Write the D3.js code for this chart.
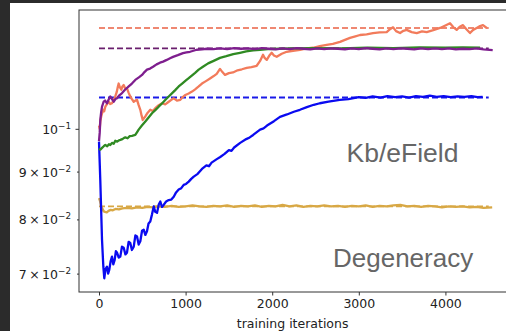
<!DOCTYPE html>
<html>
<head>
<meta charset="utf-8">
<script src="https://cdn.jsdelivr.net/npm/d3@7"></script>
<style>
body { margin: 0; background: #2b2b2b; }
svg { display: block; }
</style>
</head>
<body>
<svg id="chart" width="506" height="331"></svg>
<script>
// training curves, [iteration, value]
var blueSeries = [[0,0.0969],[15,0.0880],[35,0.0760],[50,0.0712],[61,0.0692],[75,0.0708],[92,0.0712],[105,0.0700],[119,0.0707],[135,0.0722],[150,0.0730],[165,0.0716],[181,0.0724],[195,0.0740],[208,0.0737],[228,0.0728],[246,0.0730],[265,0.0748],[285,0.0746],[305,0.0734],[323,0.0737],[342,0.0757],[361,0.0755],[380,0.0742],[401,0.0748],[420,0.0769],[439,0.0767],[458,0.0752],[477,0.0758],[497,0.0778],[516,0.0780],[535,0.0770],[554,0.0777],[572,0.0792],[592,0.0796],[612,0.0810],[632,0.0826],[650,0.0815],[670,0.0813],[690,0.0830],[708,0.0836],[727,0.0825],[747,0.0829],[775,0.0836],[805,0.0839],[835,0.0840],[863,0.0846],[890,0.0855],[920,0.0861],[950,0.0864],[978,0.0871],[1005,0.0873],[1036,0.0878],[1065,0.0884],[1094,0.0889],[1140,0.0895],[1189,0.0906],[1240,0.0914],[1270,0.0912],[1300,0.0920],[1360,0.0928],[1400,0.0933],[1450,0.0940],[1500,0.0949],[1530,0.0947],[1560,0.0955],[1630,0.0966],[1700,0.0975],[1740,0.0979],[1780,0.0985],[1860,0.0998],[1900,0.1001],[1940,0.1008],[2020,0.1019],[2090,0.1030],[2170,0.1036],[2250,0.1043],[2320,0.1048],[2400,0.1055],[2480,0.1061],[2550,0.1065],[2650,0.1069],[2780,0.1074],[2880,0.1076],[3000,0.1081],[3080,0.1079],[3160,0.1083],[3250,0.1080],[3330,0.1084],[3420,0.1081],[3500,0.1083],[3580,0.1080],[3660,0.1084],[3740,0.1082],[3820,0.1085],[3900,0.1082],[3980,0.1084],[4060,0.1081],[4140,0.1083],[4220,0.1082],[4300,0.1084],[4370,0.1081],[4430,0.1082]];

var purpleSeries = [[0,0.0970],[8,0.0990],[15,0.1022],[25,0.1042],[35,0.1056],[45,0.1063],[54,0.1069],[70,0.1072],[92,0.1065],[110,0.1074],[130,0.1083],[150,0.1076],[170,0.1069],[190,0.1076],[208,0.1078],[235,0.1086],[266,0.1092],[300,0.1101],[343,0.1110],[380,0.1118],[419,0.1128],[460,0.1135],[497,0.1142],[525,0.1150],[554,0.1157],[590,0.1160],[624,0.1165],[665,0.1172],[704,0.1177],[740,0.1180],[782,0.1185],[820,0.1190],[855,0.1194],[910,0.1199],[970,0.1205],[1010,0.1207],[1051,0.1209],[1090,0.1212],[1128,0.1215],[1190,0.1216],[1244,0.1218],[1320,0.1217],[1400,0.1219],[1480,0.1217],[1560,0.1220],[1640,0.1218],[1720,0.1219],[1800,0.1217],[1880,0.1220],[1960,0.1218],[2040,0.1216],[2120,0.1219],[2200,0.1217],[2280,0.1220],[2360,0.1218],[2440,0.1216],[2520,0.1219],[2600,0.1217],[2680,0.1219],[2760,0.1218],[2840,0.1216],[2920,0.1219],[3000,0.1217],[3080,0.1220],[3160,0.1218],[3240,0.1216],[3320,0.1219],[3400,0.1217],[3480,0.1219],[3560,0.1218],[3640,0.1216],[3720,0.1219],[3800,0.1217],[3880,0.1219],[3960,0.1217],[4040,0.1219],[4120,0.1216],[4200,0.1218],[4280,0.1217],[4360,0.1219],[4440,0.1216],[4546,0.1214]];

var greenSeries = [[0,0.0952],[15,0.0950],[35,0.0954],[55,0.0958],[73,0.0961],[95,0.0958],[115,0.0963],[130,0.0961],[150,0.0966],[170,0.0964],[188,0.0971],[210,0.0969],[230,0.0972],[246,0.0973],[270,0.0975],[290,0.0978],[304,0.0979],[330,0.0977],[355,0.0982],[381,0.0983],[400,0.0984],[419,0.0985],[440,0.0992],[458,0.0998],[495,0.1008],[535,0.1018],[575,0.1029],[612,0.1039],[650,0.1047],[689,0.1056],[730,0.1065],[770,0.1075],[805,0.1083],[845,0.1092],[880,0.1100],[920,0.1110],[960,0.1118],[1000,0.1126],[1036,0.1133],[1075,0.1141],[1110,0.1148],[1151,0.1157],[1200,0.1165],[1260,0.1175],[1330,0.1183],[1397,0.1191],[1470,0.1196],[1550,0.1202],[1628,0.1206],[1700,0.1210],[1780,0.1213],[1859,0.1215],[1950,0.1217],[2090,0.1218],[2250,0.1219],[2500,0.1220],[2800,0.1219],[3100,0.1221],[3400,0.1220],[3700,0.1222],[4000,0.1221],[4200,0.1222],[4400,0.1221]];

var salmonSeries = [[0,0.1008],[8,0.1000],[15,0.1018],[25,0.1030],[35,0.1039],[50,0.1048],[60,0.1044],[73,0.1056],[90,0.1062],[112,0.1069],[130,0.1063],[150,0.1065],[170,0.1074],[188,0.1083],[205,0.1095],[218,0.1110],[227,0.1118],[240,0.1108],[258,0.1101],[270,0.1110],[285,0.1114],[300,0.1106],[323,0.1105],[340,0.1094],[361,0.1083],[380,0.1076],[401,0.1069],[420,0.1072],[439,0.1074],[458,0.1060],[477,0.1048],[492,0.1033],[505,0.1022],[520,0.1027],[535,0.1031],[560,0.1040],[592,0.1048],[620,0.1045],[650,0.1052],[690,0.1060],[727,0.1065],[765,0.1062],[805,0.1069],[835,0.1074],[863,0.1078],[900,0.1072],[939,0.1074],[970,0.1082],[997,0.1087],[1035,0.1091],[1074,0.1096],[1110,0.1102],[1151,0.1110],[1189,0.1118],[1230,0.1124],[1282,0.1132],[1320,0.1138],[1359,0.1145],[1397,0.1159],[1425,0.1150],[1455,0.1142],[1500,0.1147],[1547,0.1149],[1600,0.1155],[1650,0.1158],[1706,0.1162],[1760,0.1164],[1821,0.1168],[1860,0.1182],[1894,0.1200],[1915,0.1190],[1937,0.1185],[1965,0.1197],[1994,0.1206],[2020,0.1198],[2052,0.1194],[2110,0.1203],[2167,0.1209],[2240,0.1212],[2321,0.1215],[2400,0.1219],[2471,0.1221],[2550,0.1226],[2629,0.1230],[2700,0.1233],[2783,0.1239],[2840,0.1245],[2898,0.1251],[2950,0.1255],[3014,0.1260],[3090,0.1262],[3164,0.1266],[3240,0.1268],[3322,0.1269],[3360,0.1278],[3395,0.1284],[3430,0.1272],[3476,0.1266],[3515,0.1273],[3553,0.1276],[3610,0.1269],[3669,0.1266],[3730,0.1271],[3784,0.1269],[3860,0.1275],[3938,0.1282],[4000,0.1290],[4053,0.1297],[4090,0.1285],[4130,0.1276],[4165,0.1286],[4203,0.1291],[4240,0.1279],[4284,0.1266],[4320,0.1276],[4361,0.1282],[4400,0.1288],[4434,0.1291],[4477,0.1282]];

var goldSeries = [[0,0.0843],[10,0.0838],[25,0.0826],[40,0.0821],[55,0.0816],[70,0.0815],[90,0.0814],[110,0.0817],[135,0.0819],[160,0.0818],[190,0.0821],[230,0.0820],[270,0.0822],[320,0.0823],[380,0.0822],[440,0.0824],[500,0.0823],[560,0.0825],[620,0.0824],[680,0.0826],[760,0.0825],[840,0.0827],[920,0.0825],[1000,0.0826],[1080,0.0828],[1160,0.0826],[1240,0.0825],[1320,0.0827],[1400,0.0826],[1480,0.0828],[1560,0.0825],[1640,0.0827],[1720,0.0826],[1800,0.0828],[1880,0.0825],[1960,0.0827],[2040,0.0826],[2120,0.0829],[2200,0.0826],[2280,0.0828],[2360,0.0825],[2440,0.0827],[2520,0.0826],[2600,0.0828],[2680,0.0826],[2760,0.0827],[2840,0.0825],[2920,0.0827],[3000,0.0826],[3080,0.0828],[3160,0.0825],[3240,0.0827],[3320,0.0826],[3400,0.0828],[3480,0.0829],[3560,0.0826],[3640,0.0827],[3720,0.0825],[3800,0.0827],[3880,0.0826],[3960,0.0824],[4040,0.0826],[4120,0.0825],[4200,0.0826],[4280,0.0824],[4360,0.0825],[4440,0.0823],[4540,0.0824]];

// target levels (dashed)
var targetNames = ["salmon", "purple", "blue", "gold"];
var targetValues = [0.1282, 0.1219, 0.1080, 0.0826];
var targetSpan = [0, 4500];

var xTicks = [0, 1000, 2000, 3000, 4000];
var yTicks = [0.07, 0.08, 0.09, 0.1];
var yTickMantissa = ["7", "8", "9", ""];
var yTickExp = ["\u22122", "\u22122", "\u22122", "\u22121"];

var curveColor = {blue: "#0a0af0", purple: "#7e1e8e", green: "#2f8a22", salmon: "#f27b5b", gold: "#d8a845"};
var dashColor = {blue: "#1a1ae8", purple: "#6a1f6e", salmon: "#ef8872", gold: "#d8a845"};

var svg = d3.select("#chart");

// white figure area over the dark frame
svg.append("rect").attr("x", 10).attr("y", 3).attr("width", 496).attr("height", 328).attr("fill", "#ffffff");

var x = d3.scaleLinear().domain([-231, 4725]).range([79, 508.2]);
var y = d3.scaleLog().domain([0.0669, 0.1340]).range([292, 10]);

var plot = svg.append("g");

// dashed target lines
targetNames.forEach(function(name, i) {
    plot.append("line")
        .attr("x1", x(targetSpan[0])).attr("x2", x(targetSpan[1]))
        .attr("y1", y(targetValues[i])).attr("y2", y(targetValues[i]))
        .attr("stroke", dashColor[name])
        .attr("stroke-width", 1.9)
        .attr("stroke-dasharray", "6,3");
});

var line = d3.line()
    .x(function(d) { return x(d[0]); })
    .y(function(d) { return y(d[1]); });

function drawCurve(data, color)
{
    plot.append("path")
        .datum(data)
        .attr("d", line)
        .attr("fill", "none")
        .attr("stroke", color)
        .attr("stroke-width", 2.3)
        .attr("stroke-linejoin", "round");
}

drawCurve(goldSeries, curveColor.gold);
drawCurve(blueSeries, curveColor.blue);
drawCurve(salmonSeries, curveColor.salmon);
drawCurve(greenSeries, curveColor.green);
drawCurve(purpleSeries, curveColor.purple);

// frame
svg.append("rect")
    .attr("x", 79).attr("y", 10)
    .attr("width", x.range()[1] - 79).attr("height", 282)
    .attr("fill", "none").attr("stroke", "#333").attr("stroke-width", 1);

// x axis
var xAxis = svg.append("g")
    .attr("transform", "translate(0,292)")
    .call(d3.axisBottom(x).tickValues(xTicks).tickSize(3.5).tickPadding(4).tickFormat(d3.format("d")));
xAxis.select(".domain").remove();
xAxis.selectAll("line").attr("stroke", "#333");
xAxis.selectAll("text")
    .attr("font-family", "DejaVu Sans").attr("font-size", 12.5).attr("fill", "#222");

// y axis, log scale with matplotlib style labels
var yAxis = svg.append("g")
    .attr("transform", "translate(79,0)")
    .call(d3.axisLeft(y).tickValues(yTicks).tickSize(2).tickFormat(""));
yAxis.select(".domain").remove();
yAxis.selectAll("line")
    .attr("stroke", "#333")
    .attr("x2", function(d) { return d === 0.1 ? -3.5 : -2; });

yAxis.selectAll(".tick text").remove();
yAxis.selectAll(".tick").each(function(d, i) {
    var t = d3.select(this).append("text")
        .attr("x", -8)
        .attr("y", 4.5)
        .attr("text-anchor", "end")
        .attr("font-family", "DejaVu Sans")
        .attr("font-size", 12.5)
        .attr("fill", "#222");
    var base = yTickMantissa[i] ? yTickMantissa[i] + "\u2009\u00d7\u200910" : "10";
    t.append("tspan").text(base);
    t.append("tspan").attr("dy", -5).attr("font-size", 8.8).text(yTickExp[i]);
});

svg.append("text")
    .attr("x", (79 + x.range()[1]) / 2 - 1)
    .attr("y", 327.5)
    .attr("text-anchor", "middle")
    .attr("font-family", "DejaVu Sans")
    .attr("font-size", 12.5)
    .attr("fill", "#222")
    .text("training iterations");

// annotations
svg.append("text")
    .attr("x", 346.5).attr("y", 161.5)
    .attr("font-family", "Liberation Sans").attr("font-size", 26.5)
    .attr("fill", "#666")
    .text("Kb/eField");

svg.append("text")
    .attr("x", 333).attr("y", 267.3)
    .attr("font-family", "Liberation Sans").attr("font-size", 26)
    .attr("fill", "#666")
    .text("Degeneracy");
</script>
</body>
</html>
